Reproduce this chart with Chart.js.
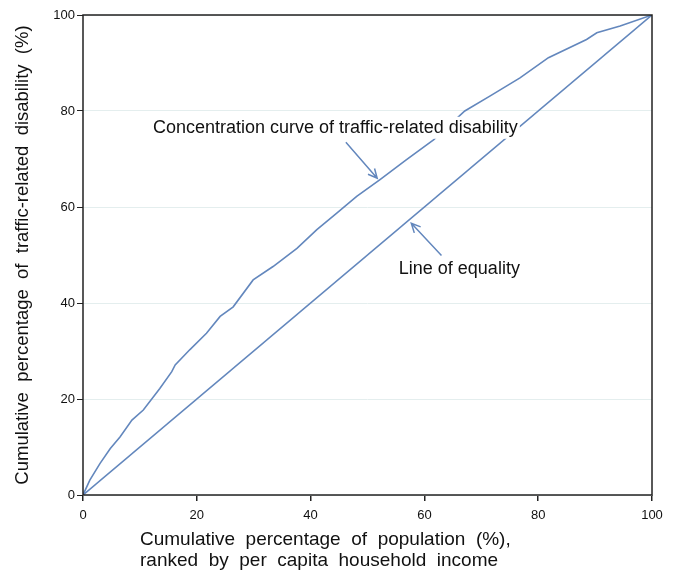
<!DOCTYPE html>
<html>
<head>
<meta charset="utf-8">
<script src="https://cdn.jsdelivr.net/npm/chart.js@4/dist/chart.umd.min.js"></script>
<style>
  html, body { margin: 0; padding: 0; background: #fff; }
</style>
</head>
<body>
<canvas id="myChart" width="675" height="573"></canvas>
<script>
// concentration curve
var popPct = [0, 1.2, 3.0, 4.8, 6.5, 8.6, 10.6, 13.5, 15.6, 16.2, 18.8, 21.7, 24.1, 26.4, 29.9, 33.4, 37.6, 41.1, 44.6, 48.1, 52.2, 56.8, 61.6, 67.1, 71.5, 76.8, 81.8, 88.5, 90.3, 94.4, 100];
var disabilityPct = [0, 3.1, 6.6, 9.7, 12.1, 15.6, 17.7, 22.2, 25.7, 27.1, 30.3, 33.7, 37.2, 39.2, 44.8, 47.6, 51.4, 55.3, 58.7, 62.2, 65.7, 69.8, 74.0, 80.0, 83.1, 86.9, 91.1, 94.9, 96.3, 97.7, 100];
var equalityX = [0, 100];
var equalityY = [0, 100];
var tickValues = [0, 20, 40, 60, 80, 100];

var blue = '#6387bd';

function pts(xs, ys) {
  return xs.map(function (x, i) { return { x: x, y: ys[i] }; });
}

function arrow(ctx, x1, y1, x2, y2) {
  var a = Math.atan2(y2 - y1, x2 - x1), h = 10;
  ctx.beginPath();
  ctx.moveTo(x1, y1);
  ctx.lineTo(x2, y2);
  ctx.moveTo(x2 - h * Math.cos(a - 0.45), y2 - h * Math.sin(a - 0.45));
  ctx.lineTo(x2, y2);
  ctx.lineTo(x2 - h * Math.cos(a + 0.45), y2 - h * Math.sin(a + 0.45));
  ctx.stroke();
}

// box round the plot, the two notes with arrows, and the x title
var extras = {
  id: 'extras',
  afterDatasetsDraw: function (chart) {
    var ctx = chart.ctx, xs = chart.scales.x, ys = chart.scales.y, a = chart.chartArea;
    ctx.save();
    ctx.strokeStyle = '#222';
    ctx.lineWidth = 1.5;
    ctx.strokeRect(a.left, a.top, a.right - a.left, a.bottom - a.top);

    ctx.font = '18px "Liberation Sans", Arial, sans-serif';
    ctx.textBaseline = 'middle';
    ctx.textAlign = 'left';
    var t1 = 'Concentration curve of traffic-related disability';
    var lx = xs.getPixelForValue(12.3), ly = ys.getPixelForValue(76.5);
    var w = ctx.measureText(t1).width;
    ctx.fillStyle = '#fff';
    ctx.fillRect(lx - 2, ly - 11, w + 4, 22);
    ctx.fillStyle = '#111';
    ctx.fillText(t1, lx, ly);
    ctx.fillText('Line of equality', xs.getPixelForValue(55.5), ys.getPixelForValue(47.1));

    ctx.strokeStyle = blue;
    ctx.lineWidth = 1.5;
    arrow(ctx, xs.getPixelForValue(46.2), ys.getPixelForValue(73.5), xs.getPixelForValue(51.7), ys.getPixelForValue(66.0));
    arrow(ctx, xs.getPixelForValue(63.0), ys.getPixelForValue(49.9), xs.getPixelForValue(57.7), ys.getPixelForValue(56.6));

    ctx.fillStyle = '#111';
    ctx.font = '19px "Liberation Sans", Arial, sans-serif';
    ctx.fillText('Cumulative  percentage  of  population  (%),', 140, 540);
    ctx.fillText('ranked  by  per  capita  household  income', 140, 561);
    ctx.restore();
  }
};

var ctx = document.getElementById('myChart');
var myChart = new Chart(ctx, {
  type: 'scatter',
  data: {
    datasets: [{
      label: 'Concentration curve',
      data: pts(popPct, disabilityPct),
      showLine: true,
      borderColor: blue,
      borderWidth: 1.6,
      pointRadius: 0,
      tension: 0
    }, {
      label: 'Line of equality',
      data: pts(equalityX, equalityY),
      showLine: true,
      borderColor: blue,
      borderWidth: 1.6,
      pointRadius: 0
    }]
  },
  options: {
    responsive: false,
    animation: false,
    maintainAspectRatio: false,
    layout: { padding: { left: 0, top: 15, right: 23, bottom: 0 } },
    plugins: { legend: { display: false }, tooltip: { enabled: false } },
    scales: {
      x: {
        type: 'linear', min: 0, max: 100,
        afterBuildTicks: function (s) { s.ticks = tickValues.map(function (v) { return { value: v }; }); },
        afterFit: function (s) { s.height = 78; },
        grid: { drawOnChartArea: false, drawTicks: true, tickLength: 6, tickColor: '#222', lineWidth: 1.5 },
        border: { display: false },
        ticks: { color: '#111', font: { size: 13, family: '"Liberation Sans", Arial, sans-serif' }, padding: 7, maxRotation: 0 }
      },
      y: {
        type: 'linear', min: 0, max: 100,
        afterBuildTicks: function (s) { s.ticks = tickValues.map(function (v) { return { value: v }; }); },
        afterFit: function (s) { s.width = 83; },
        grid: { color: '#e4eeee', lineWidth: 1, drawTicks: true, tickLength: 6, tickColor: '#222' },
        border: { display: false },
        ticks: { color: '#111', font: { size: 13, family: '"Liberation Sans", Arial, sans-serif' }, padding: 2 },
        title: {
          display: true,
          text: 'Cumulative  percentage  of  traffic-related  disability  (%)',
          color: '#111',
          font: { size: 18.5, family: '"Liberation Sans", Arial, sans-serif' },
          padding: { top: 12, bottom: 0 }
        }
      }
    }
  },
  plugins: [extras]
});
</script>
</body>
</html>
